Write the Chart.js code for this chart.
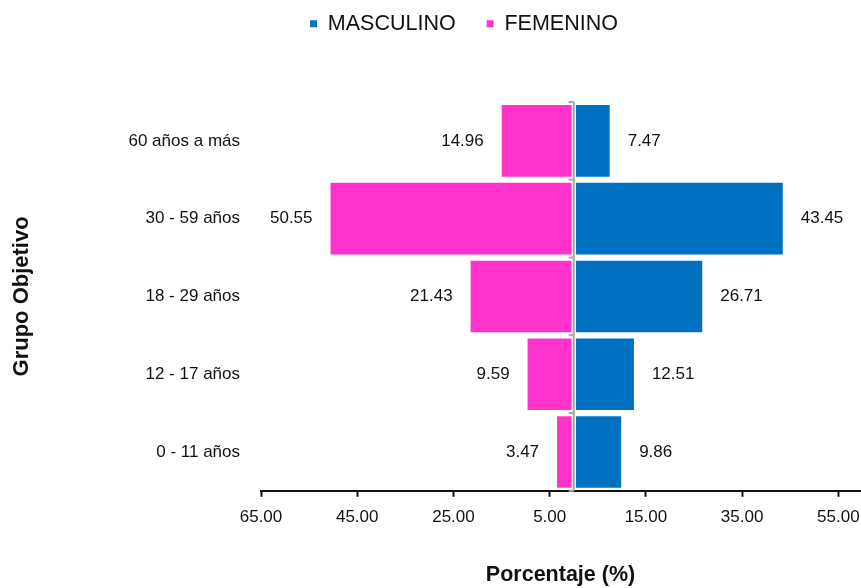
<!DOCTYPE html>
<html>
<head>
<meta charset="utf-8">
<script src="https://cdn.jsdelivr.net/npm/chart.js@4.4.1/dist/chart.umd.min.js"></script>
<style>
  html, body { margin: 0; padding: 0; background: #fff; }
  #wrap { width: 861px; height: 588px; position: relative; }
</style>
</head>
<body>
<div id="wrap"><canvas id="pyramid"></canvas></div>
<script>
const grupos = ["60 años a más", "30 - 59 años", "18 - 29 años", "12 - 17 años", "0 - 11 años"];
const masculino = [7.47, 43.45, 26.71, 12.51, 9.86];
const femenino = [14.96, 50.55, 21.43, 9.59, 3.47];
const xTicks = [-65, -45, -25, -5, 15, 35, 55];

const blue = "#0070C0";
const pink = "#FF33CC";
const ink = "#111111";
const family = "'Liberation Sans', Arial, sans-serif";
const gap = 0.45; // white gap on each side of the centre line

// legend is short, push the plot down below it
const legendSpace = {
  id: "legendSpace",
  beforeInit(chart) {
    const fit = chart.legend.fit;
    chart.legend.fit = function () {
      fit.call(this);
      this.height = 120;
    };
  }
};

const centreLine = {
  id: "centreLine",
  afterDatasetsDraw(chart) {
    const { ctx, chartArea, scales } = chart;
    const x = scales.x.getPixelForValue(0);
    ctx.save();
    ctx.strokeStyle = "#A6A6A6";
    ctx.lineWidth = 2;
    ctx.beginPath();
    ctx.moveTo(x, chartArea.top);
    ctx.lineTo(x, chartArea.bottom);
    for (let i = 0; i <= grupos.length; i++) {
      const y = scales.y.getPixelForValue(i - 0.5);
      ctx.moveTo(x, y);
      ctx.lineTo(x - 5, y);
    }
    ctx.stroke();
    ctx.restore();
  }
};

const valueLabels = {
  id: "valueLabels",
  afterDatasetsDraw(chart) {
    const { ctx, scales } = chart;
    const sources = [[masculino, 1], [femenino, -1]];
    ctx.save();
    ctx.font = `17px ${family}`;
    ctx.fillStyle = ink;
    ctx.textBaseline = "middle";
    sources.forEach(([values, side], di) => {
      chart.getDatasetMeta(di).data.forEach((bar, i) => {
        const x = scales.x.getPixelForValue(side * values[i]);
        ctx.textAlign = side > 0 ? "left" : "right";
        ctx.fillText(values[i].toFixed(2), x + side * 18, bar.y);
      });
    });
    ctx.restore();
  }
};

new Chart(document.getElementById("pyramid"), {
  type: "bar",
  plugins: [legendSpace, centreLine, valueLabels],
  data: {
    labels: grupos,
    datasets: [
      {
        label: "MASCULINO",
        data: masculino.map((v) => [gap, v]),
        backgroundColor: blue,
        grouped: false,
        barPercentage: 0.92,
        categoryPercentage: 1
      },
      {
        label: "FEMENINO",
        data: femenino.map((v) => [-v, -gap]),
        backgroundColor: pink,
        grouped: false,
        barPercentage: 0.92,
        categoryPercentage: 1
      }
    ]
  },
  options: {
    indexAxis: "y",
    responsive: true,
    maintainAspectRatio: false,
    animation: false,
    layout: { padding: { top: -18, left: 68, right: 1, bottom: 0 } },
    plugins: {
      tooltip: { enabled: false },
      legend: {
        position: "top",
        labels: {
          boxWidth: 7,
          boxHeight: 7,
          padding: 31,
          color: ink,
          font: { family, size: 21.5 }
        }
      }
    },
    scales: {
      x: {
        min: -65,
        max: 59.5,
        afterBuildTicks(axis) {
          axis.ticks = xTicks.map((value) => ({ value }));
        },
        afterFit(scale) {
          scale.paddingRight = 0;
        },
        ticks: {
          callback: (value) => Math.abs(value).toFixed(2),
          color: ink,
          font: { family, size: 17 },
          padding: 10,
          maxRotation: 0,
          autoSkip: false
        },
        grid: { display: true, drawOnChartArea: false, tickLength: 6, tickColor: ink, tickWidth: 2 },
        border: { display: true, color: ink, width: 2 },
        title: {
          display: true,
          text: "Porcentaje (%)",
          color: ink,
          font: { family, size: 21.5, weight: "bold" },
          padding: { top: 25, bottom: 0 }
        }
      },
      y: {
        grid: { display: false },
        border: { display: false },
        ticks: { color: ink, font: { family, size: 17 }, padding: 13 },
        title: {
          display: true,
          text: "Grupo Objetivo",
          color: ink,
          font: { family, size: 22, weight: "bold" },
          padding: { top: -59, bottom: 0 }
        },
        afterFit(scale) {
          scale.width = 193;
        }
      }
    }
  }
});
</script>
</body>
</html>
